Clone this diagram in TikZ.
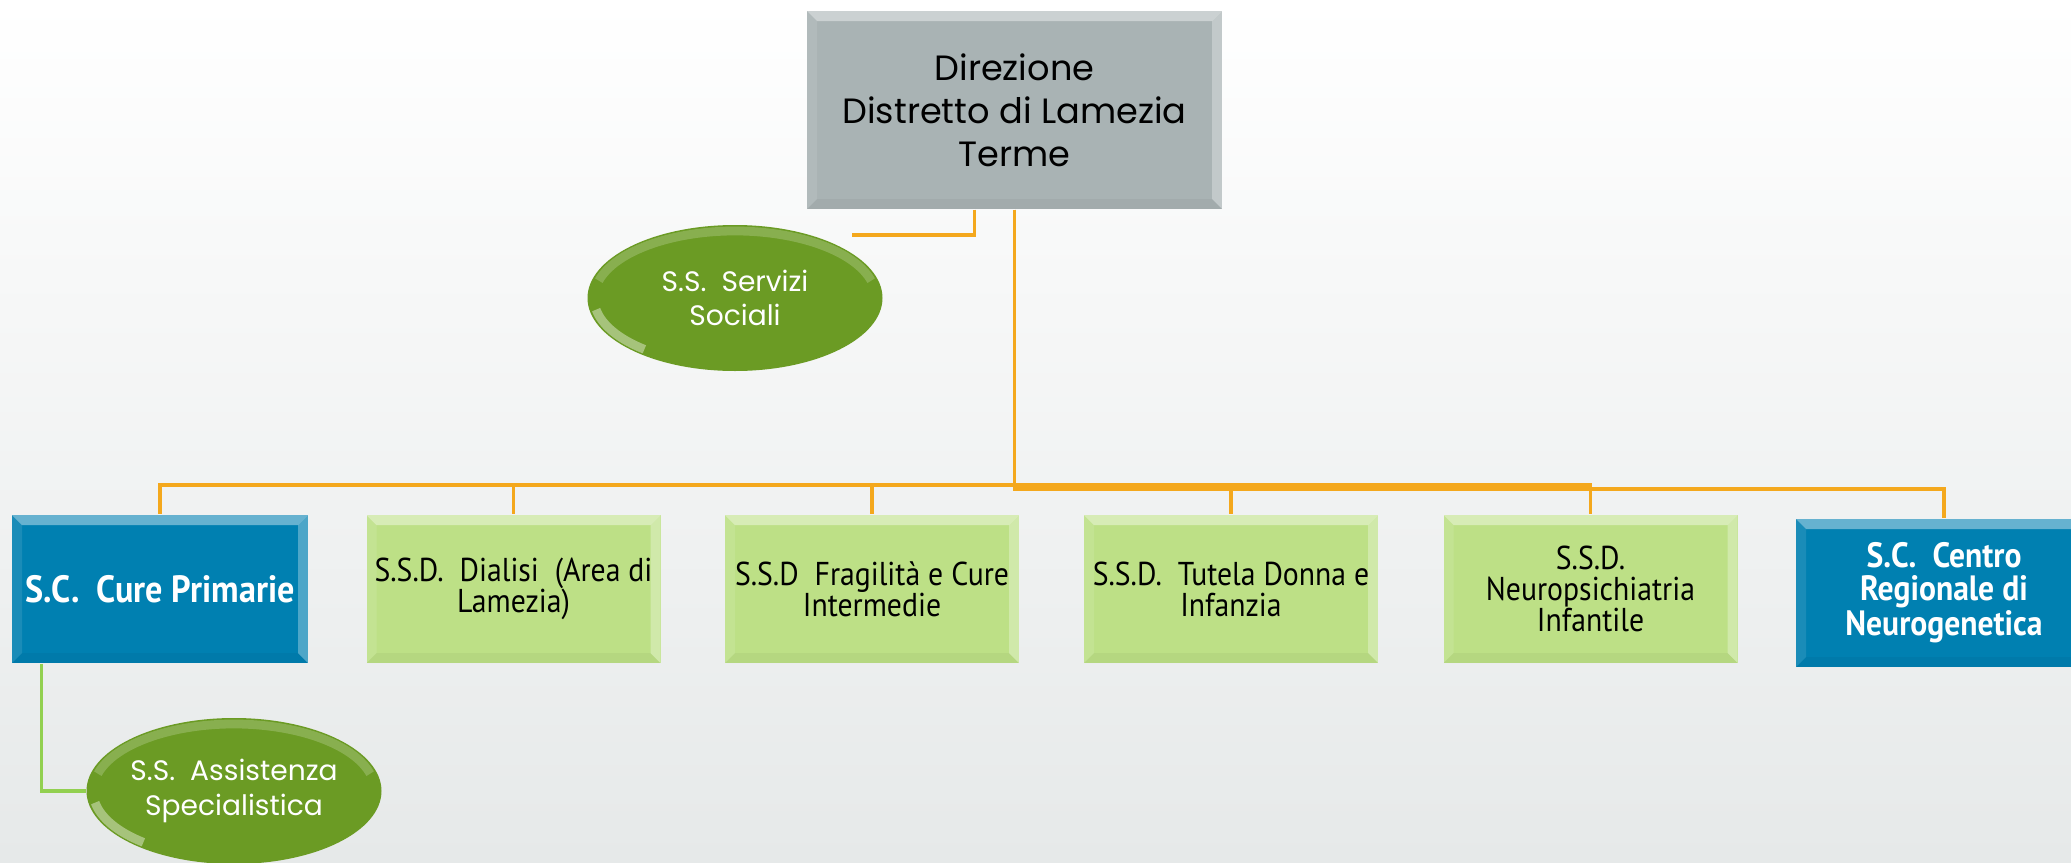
\documentclass[tikz,border=0pt]{standalone}
\usepackage{fontspec}
\setmainfont{Poppins}
\newfontfamily\twfont[FakeStretch=0.9]{PT Sans}
\usepackage{xcolor}
\definecolor{dir-gray}{RGB}{169,179,180}
\definecolor{sc-blue}{RGB}{0,128,177}
\definecolor{ssd-green}{RGB}{189,224,134}
\definecolor{ss-green}{RGB}{107,155,36}
\definecolor{line-orange}{RGB}{244,168,29}
\definecolor{line-green}{RGB}{146,208,80}
\definecolor{bg-bottom}{RGB}{230,233,233}
\usepackage{tikz}
\usetikzlibrary{shapes}

\begin{document}
\begin{tikzpicture}
%\draw [help lines] (0,0) grid (20,8);
\tikzset{
	bevel/.style={
		path picture={
			\fill [white, opacity=0.4]
				(path picture bounding box.north west) -- (path picture bounding box.north east)
				-- ([shift={(-1mm,-1mm)}]path picture bounding box.north east)
				-- ([shift={(1mm,-1mm)}]path picture bounding box.north west) -- cycle;
			\fill [white, opacity=0.1]
				(path picture bounding box.north west) -- ([shift={(1mm,-1mm)}]path picture bounding box.north west)
				-- ([shift={(1mm,1mm)}]path picture bounding box.south west) -- (path picture bounding box.south west) -- cycle;
			\fill [white, opacity=0.3]
				(path picture bounding box.north east) -- ([shift={(-1mm,-1mm)}]path picture bounding box.north east)
				-- ([shift={(-1mm,1mm)}]path picture bounding box.south east) -- (path picture bounding box.south east) -- cycle;
			\fill [black, opacity=0.04]
				(path picture bounding box.south west) -- ([shift={(1mm,1mm)}]path picture bounding box.south west)
				-- ([shift={(-1mm,1mm)}]path picture bounding box.south east) -- (path picture bounding box.south east) -- cycle;
		}
	},
	gloss/.style={
		path picture={
			\draw [white, opacity=0.2, line width=2.5pt]
				([shift={(165:1.41cm and 0.67cm)}]path picture bounding box.center)
				arc [start angle=165, end angle=15, x radius=1.41cm, y radius=0.67cm];
			\draw [white, opacity=0.4, line width=2.5pt]
				([shift={(190:1.41cm and 0.67cm)}]path picture bounding box.center)
				arc [start angle=190, end angle=230, x radius=1.41cm, y radius=0.67cm];
		}
	},
	boxDir/.style={
		rectangle,
		inner sep=0pt,
		align=center,
		fill=dir-gray,
		minimum width=4.15cm,
		minimum height=1.98cm,
		font=\fontsize{10}{12.2}\selectfont,
		bevel
	},
	boxSC/.style={
		rectangle,
		inner sep=0pt,
		align=center,
		fill=sc-blue,
		text=white,
		minimum width=2.96cm,
		minimum height=1.48cm,
		font=\twfont\bfseries\fontsize{10}{9.2}\selectfont,
		bevel
	},
	boxSSD/.style={
		rectangle,
		inner sep=0pt,
		align=center,
		fill=ssd-green,
		minimum width=2.94cm,
		minimum height=1.48cm,
		font=\twfont\fontsize{9.4}{8.8}\selectfont,
		bevel
	},
	ovalSS/.style={
		ellipse,
		inner sep=0pt,
		align=center,
		fill=ss-green,
		text=white,
		minimum width=2.95cm,
		minimum height=1.46cm,
		font=\fontsize{8}{9.8}\selectfont,
		gloss
	},
	link/.style={draw=line-orange, line width=1pt},
	linkG/.style={draw=line-green, line width=1pt}
}

\useasboundingbox (0,0) rectangle (20.71,8.62);
\clip (0,0) rectangle (20.71,8.62);
\fill [top color=white, bottom color=bg-bottom] (0,0) rectangle (20.71,8.62);

\node (a) [boxDir] at (10.145,7.52) {Direzione\\ Distretto di Lamezia\\ Terme};
\node (b) [ovalSS] at (7.35,5.64) {S.S.~~Servizi\\ Sociali};
\node (c) [boxSC, font=\twfont\bfseries\fontsize{10.8}{10}\selectfont] at (1.60,2.73) {S.C.~~Cure Primarie};
\node (d) [boxSSD] at (5.135,2.73) {S.S.D.~~Dialisi~~(Area di\\ Lamezia)};
\node (e) [boxSSD] at (8.72,2.73) {S.S.D~~Fragilità e Cure\\ Intermedie};
\node (f) [boxSSD] at (12.31,2.73) {S.S.D.~~Tutela Donna e\\ Infanzia};
\node (g) [boxSSD] at (15.905,2.73) {S.S.D.\\ Neuropsichiatria\\ Infantile};
\node (h) [boxSC] at (19.44,2.69) {S.C.~~Centro\\ Regionale di\\ Neurogenetica};
\node (i) [ovalSS] at (2.34,0.71) {S.S.~~Assistenza\\ Specialistica};

\coordinate (bus) at (10.145,3.77);
\coordinate (busR) at (10.145,3.73);
\coordinate (bEnd) at (8.52,6.27);

\draw [link] ([xshift=-4mm]a.south) |- (bEnd);
\draw [link] (a) -- (bus) -| (c);
\draw [link] (bus) -| (d);
\draw [link] (bus) -| (e);
\draw [link] (bus) -| (f);
\draw [link] (bus) -| (g);
\draw [link] (a) -- (busR) -| (h);
\draw [linkG] ([xshift=3mm]c.south west) |- (i);
\end{tikzpicture}
\end{document}
